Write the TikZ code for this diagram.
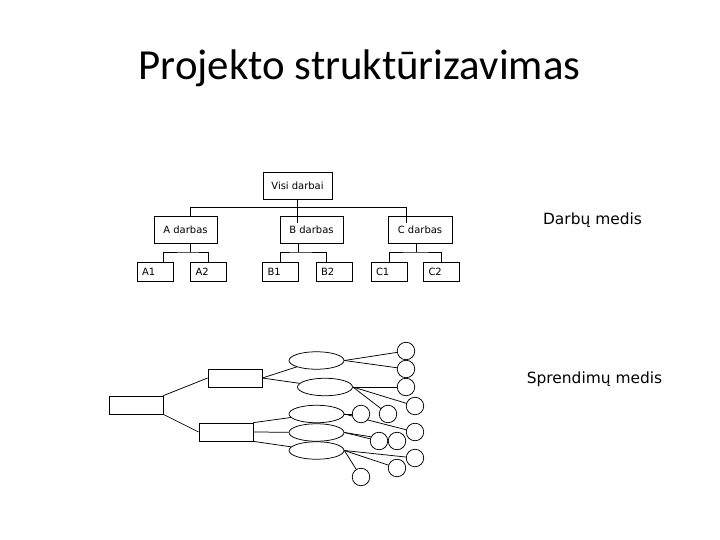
\documentclass[tikz,border=0pt]{standalone}
\usepackage{fontspec}
\setmainfont{DejaVu Sans}
\newfontfamily\titlefont{Carlito}
\usepackage{tikz}
\usetikzlibrary{positioning,shapes.geometric,backgrounds}
\tikzset{
workbox/.style={
draw,
minimum width=63bp,
minimum height=27bp,
inner sep=0pt,
align=center,
font=\fontsize{10}{12}\selectfont
},
leafbox/.style={
draw,
minimum height=19bp,
text width=26bp,
inner xsep=5bp,
inner ysep=0pt,
align=left,
font=\fontsize{10}{12}\selectfont
},
decbox/.style={
draw,
minimum width=54bp,
minimum height=18bp,
inner sep=0pt
},
option/.style={
draw,
ellipse,
minimum width=55bp,
minimum height=17.5bp,
inner sep=0pt
},
outcome/.style={
draw,
circle,
fill=white,
minimum size=17.5bp,
inner sep=0pt
},
link/.style={
line width=0.75pt
},
caption/.style={
anchor=base,
font=\fontsize{15.5}{18}\selectfont
}
}

\begin{document}
\begin{tikzpicture}[x=1bp,y=-1bp,line width=0.75pt]
\useasboundingbox (0,0) rectangle (720,540);
\node[anchor=base,font=\titlefont\fontsize{43}{50}\selectfont](title) at (359.5,80){Projekto struktūrizavimas};

% darbu medis
\node[workbox,minimum width=69bp](visi) at (297.5,185.5){Visi darbai};
\node[workbox](a) at (185.5,229.5){A darbas};
\node[workbox](b) at (311.5,229.5){B darbas};
\node[workbox,minimum width=64bp](c) at (420,229.5){C darbas};
\node[leafbox](a1) at (155,271.5){A1};
\node[leafbox](a2) at (208.5,271.5){A2};
\node[leafbox](b1) at (280.5,271.5){B1};
\node[leafbox](b2) at (334,271.5){B2};
\node[leafbox](c1) at (389,271.5){C1};
\node[leafbox](c2) at (441.5,271.5){C2};
\node[caption](wbs) at (592.5,225){Darbų medis};

\coordinate (ja) at (190,207);
\coordinate (jc) at (406,207);
\coordinate (tb) at (297.5,223);
\coordinate (tc) at (406,223);
\coordinate (sa) at (190,252);
\coordinate (sb) at (298,252);
\coordinate (sc) at (416,252);
\draw (visi.south) -- (tb);
\draw (a.north -| ja) -- (ja) -- (jc) -- (tc);
\foreach \p/\s in {a/sa,b/sb,c/sc}
\draw (\p.south -| \s) -- (\s);
\draw ([xshift=8bp]a1.north) |- (sa) -| (a2.north);
\draw (b1.north) |- (sb) -| ([xshift=-8bp]b2.north);
\draw (c1.north) |- (sc) -| (c2.north);

% sprendimu medis
\node[decbox](root) at (136,405){};
\node[decbox](up) at (235,378){};
\node[decbox](lo) at (226,432){};
\node[option](e1) at (316.5,360.5){};
\node[option](e2) at (325,387){};
\node[option](e3) at (316.5,414){};
\node[option](e4) at (316.5,432.5){};
\node[option](e5) at (316.5,450.5){};
\foreach \n/\x/\y in {1/406/351,2/406/369,3/406/387,4/415/406,5/361/414,6/388/414,7/415/432,8/379/441,9/397/441,10/415/458,11/397/468,12/361/477}
\node[outcome](o\n) at (\x,\y){};
\node[caption](dt) at (594.5,383){Sprendimų medis};

\draw (root.north east) -- (up.west);
\draw (root.south east) -- (lo.west);
\draw (up.east) -- (e1);
\draw (up.east) -- (e2);
\draw (lo.north east) -- (e3);
\draw (lo.east) -- (e4);
\draw (lo.south east) -- (e5);
\begin{scope}[on background layer]
\foreach \s/\t in {e1/o1,e1/o2,e2/o3,e2/o4,e2/o6,e3/o5,e3/o7,e4/o8,e4/o9,e5/o10,e5/o11,e5/o12}
\draw[link] (\s.east) -- (\t.center);
\end{scope}
\end{tikzpicture}
\end{document}
